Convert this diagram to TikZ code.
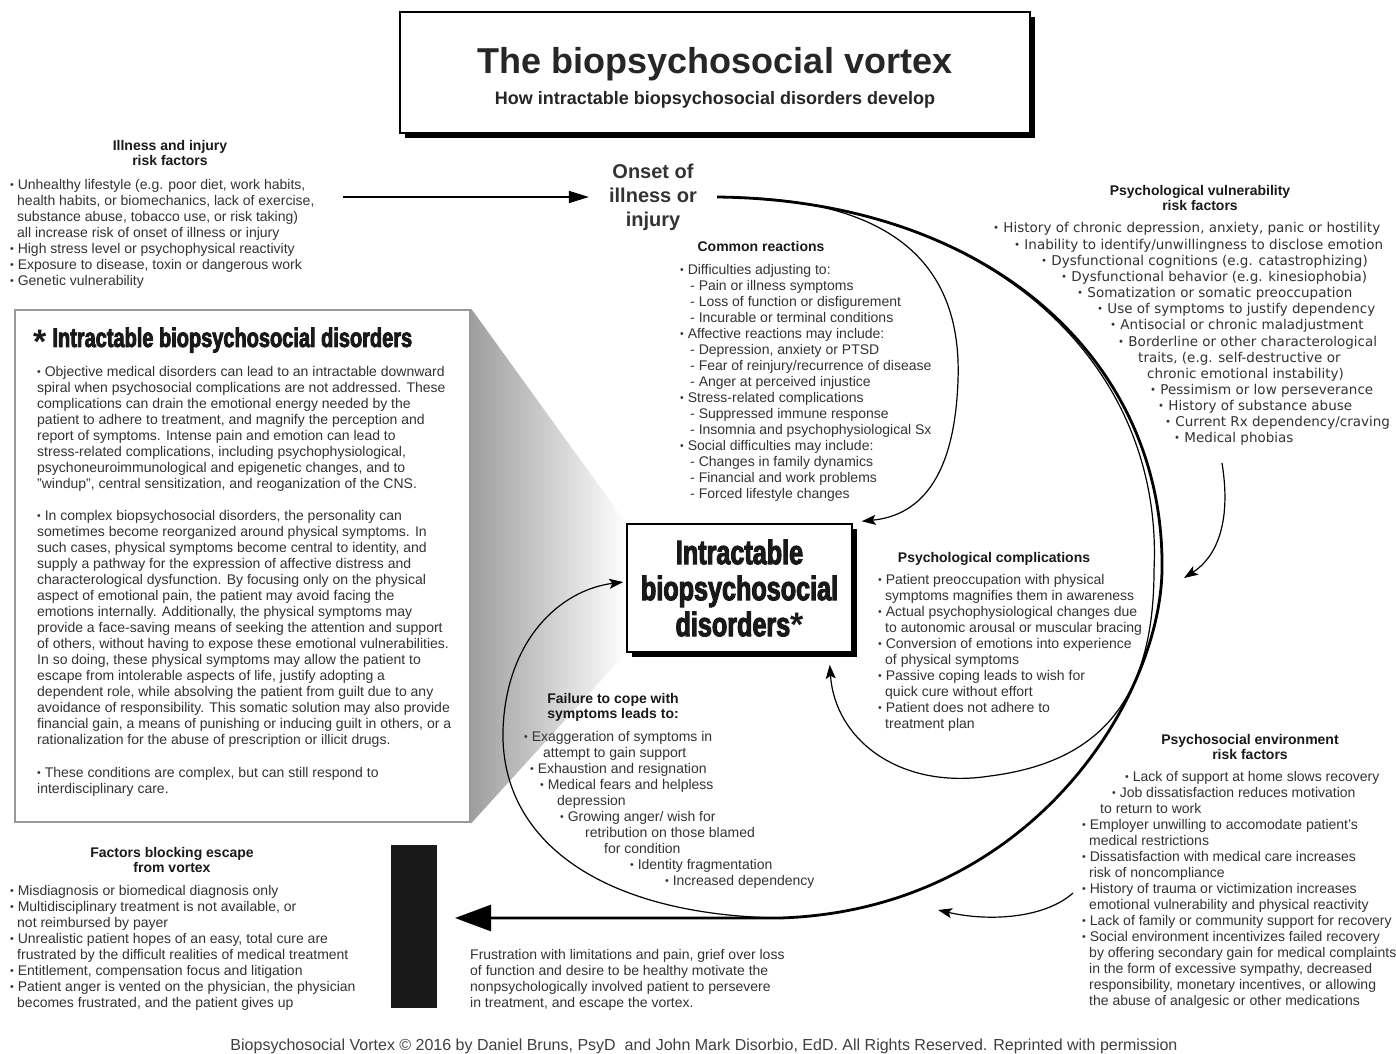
\documentclass[tikz,border=0pt]{standalone}
\usepackage{fontspec}
\setmainfont{Liberation Sans}
\newfontfamily\impactfont[FakeStretch=0.74,FakeBold=3]{Liberation Sans Bold}
\newfontfamily\widefont{DejaVu Sans}
\usepackage{graphicx}
\usetikzlibrary{arrows.meta,shadows,backgrounds}
\newcommand{\bul}{\raisebox{1pt}{\scalebox{0.75}{\textbullet}}\ }

\begin{document}
\begin{tikzpicture}[x=1pt,y=-1pt,
        body/.style={font=\fontsize{14}{16}\selectfont, text=black!80, align=left, inner sep=0pt, anchor=north west},
        head/.style={font=\fontsize{14}{15}\selectfont\bfseries, text=black!90, align=center, inner sep=0pt, anchor=north},
        shadowbox/.style={draw, line width=1.5pt, fill=white, inner sep=0pt, drop shadow={shadow xshift=5pt, shadow yshift=-5pt, opacity=1, fill=black}},
        swirl/.style={line width=1.2pt, -{Stealth[length=14pt,width=10pt,inset=3pt]}}]
        \path[use as bounding box] (0,0) rectangle (1396,1053);

        % title
        \node[shadowbox, minimum width=630pt, minimum height=121pt] (banner) at (715,72.5) {};
        \node[font=\fontsize{36}{40}\selectfont\bfseries, text=black!85] (title) at (715,64) {The biopsychosocial vortex};
        \node[font=\fontsize{18}{20}\selectfont\bfseries, text=black!85] (subtitle) at (715,100) {How intractable biopsychosocial disorders develop};

        % illness and onset
        \node[head] (illhead) at (170,140.5) {Illness and injury\\risk factors};
        \node[body] (illlist) at (10,179.5) {\bul Unhealthy lifestyle (e.g. poor diet, work habits,\\
            \hspace*{7pt}health habits, or biomechanics, lack of exercise,\\
            \hspace*{7pt}substance abuse, tobacco use, or risk taking)\\
            \hspace*{7pt}all increase risk of onset of illness or injury\\
            \bul High stress level or psychophysical reactivity\\
            \bul Exposure to disease, toxin or dangerous work\\
            \bul Genetic vulnerability};
        \node[font=\fontsize{20}{24}\selectfont\bfseries, text=black!80, align=center, inner xsep=20pt, inner ysep=0pt] (onset) at (653,197) {Onset of\\illness or\\injury};
        \coordinate (illend) at (343,197);
        \draw[line width=1.5pt, -{Triangle[length=20pt,width=12pt]}] (illend) -- (onset.west);

        % side box
        \node[draw=black!40, line width=2.5pt, fill=white, minimum width=455pt, minimum height=512pt, inner sep=0pt] (sidebox) at (242.5,566) {};
        \node[anchor=west, inner sep=0pt, text=black!90] (sidehead) at (33,340.7) {{\fontsize{34}{34}\selectfont\bfseries\raisebox{-7pt}{*}}\hspace{6pt}{\impactfont\fontsize{27}{28}\selectfont Intractable biopsychosocial disorders}};
        \node[body] (sidetext) at (37,366.5) {\bul Objective medical disorders can lead to an intractable downward\\
            spiral when psychosocial complications are not addressed. These\\
            complications can drain the emotional energy needed by the\\
            patient to adhere to treatment, and magnify the perception and\\
            report of symptoms. Intense pain and emotion can lead to\\
            stress-related complications, including psychophysiological,\\
            psychoneuroimmunological and epigenetic changes, and to\\
            "windup", central sensitization, and reoganization of the CNS.\\[16pt]
            \bul In complex biopsychosocial disorders, the personality can\\
            sometimes become reorganized around physical symptoms. In\\
            such cases, physical symptoms become central to identity, and\\
            supply a pathway for the expression of affective distress and\\
            characterological dysfunction. By focusing only on the physical\\
            aspect of emotional pain, the patient may avoid facing the\\
            emotions internally. Additionally, the physical symptoms may\\
            provide a face-saving means of seeking the attention and support\\
            of others, without having to expose these emotional vulnerabilities.\\
            In so doing, these physical symptoms may allow the patient to\\
            escape from intolerable aspects of life, justify adopting a\\
            dependent role, while absolving the patient from guilt due to any\\
            avoidance of responsibility. This somatic solution may also provide\\
            financial gain, a means of punishing or inducing guilt in others, or a\\
            rationalization for the abuse of prescription or illicit drugs.\\[17pt]
            \bul These conditions are complex, but can still respond to\\
            interdisciplinary care.};

        % center box
        \node[shadowbox, minimum width=225pt, minimum height=128pt, font=\impactfont\fontsize{34}{36}\selectfont, text=black!90, align=center] (itd) at (739.5,588) {Intractable\\biopsychosocial\\disorders{\normalfont\bfseries\fontsize{34}{34}\selectfont*}};
        \begin{scope}[on background layer]
            \fill[white] (0,0) rectangle (1396,1053);
            \shade[left color=black!38, right color=white] (sidebox.north east) -- (itd.north west) -- (itd.south west) -- (sidebox.south east) -- cycle;
        \end{scope}

        % common reactions
        \node[head] (crhead) at (761,241.5) {Common reactions};
        \node[body] (crlist) at (680,264.5) {\bul Difficulties adjusting to:\\
            \hspace*{10pt}- Pain or illness symptoms\\
            \hspace*{10pt}- Loss of function or disfigurement\\
            \hspace*{10pt}- Incurable or terminal conditions\\
            \bul Affective reactions may include:\\
            \hspace*{10pt}- Depression, anxiety or PTSD\\
            \hspace*{10pt}- Fear of reinjury/recurrence of disease\\
            \hspace*{10pt}- Anger at perceived injustice\\
            \bul Stress-related complications\\
            \hspace*{10pt}- Suppressed immune response\\
            \hspace*{10pt}- Insomnia and psychophysiological Sx\\
            \bul Social difficulties may include:\\
            \hspace*{10pt}- Changes in family dynamics\\
            \hspace*{10pt}- Financial and work problems\\
            \hspace*{10pt}- Forced lifestyle changes};

        % psychological vulnerability
        \node[head] (pvhead) at (1200,185.5) {Psychological vulnerability\\risk factors};
        \node[body, font=\widefont\fontsize{13.5}{16.15}\selectfont] (pvlist) at (993,222.5) {\bul History of chronic depression, anxiety, panic or hostility\\
            \hspace*{21pt}\bul Inability to identify/unwillingness to disclose emotion\\
            \hspace*{48pt}\bul Dysfunctional cognitions (e.g. catastrophizing)\\
            \hspace*{68pt}\bul Dysfunctional behavior (e.g. kinesiophobia)\\
            \hspace*{84pt}\bul Somatization or somatic preoccupation\\
            \hspace*{104pt}\bul Use of symptoms to justify dependency\\
            \hspace*{117pt}\bul Antisocial or chronic maladjustment\\
            \hspace*{125pt}\bul Borderline or other characterological\\
            \hspace*{145pt}traits, (e.g. self-destructive or\\
            \hspace*{154pt}chronic emotional instability)\\
            \hspace*{157pt}\bul Pessimism or low perseverance\\
            \hspace*{165pt}\bul History of substance abuse\\
            \hspace*{172pt}\bul Current Rx dependency/craving\\
            \hspace*{181pt}\bul Medical phobias};

        % psychological complications
        \node[head] (pchead) at (994,552.5) {Psychological complications};
        \node[body] (pclist) at (878,574.5) {\bul Patient preoccupation with physical\\
            \hspace*{7pt}symptoms magnifies them in awareness\\
            \bul Actual psychophysiological changes due\\
            \hspace*{7pt}to autonomic arousal or muscular bracing\\
            \bul Conversion of emotions into experience\\
            \hspace*{7pt}of physical symptoms\\
            \bul Passive coping leads to wish for\\
            \hspace*{7pt}quick cure without effort\\
            \bul Patient does not adhere to\\
            \hspace*{7pt}treatment plan};

        % failure to cope
        \node[head] (fchead) at (613,693.5) {Failure to cope with\\symptoms leads to:};
        \node[body] (fclist) at (524,731.5) {\bul Exaggeration of symptoms in\\
            \hspace*{19pt}attempt to gain support\\
            \hspace*{6pt}\bul Exhaustion and resignation\\
            \hspace*{16pt}\bul Medical fears and helpless\\
            \hspace*{33pt}depression\\
            \hspace*{36pt}\bul Growing anger/ wish for\\
            \hspace*{61pt}retribution on those blamed\\
            \hspace*{80pt}for condition\\
            \hspace*{106pt}\bul Identity fragmentation\\
            \hspace*{141pt}\bul Increased dependency};

        % psychosocial environment
        \node[head] (pehead) at (1250,734.5) {Psychosocial environment\\risk factors};
        \node[body] (pelist) at (1082,771.5) {\hspace*{43pt}\bul Lack of support at home slows recovery\\
            \hspace*{30pt}\bul Job dissatisfaction reduces motivation\\
            \hspace*{18pt}to return to work\\
            \bul Employer unwilling to accomodate patient's\\
            \hspace*{7pt}medical restrictions\\
            \bul Dissatisfaction with medical care increases\\
            \hspace*{7pt}risk of noncompliance\\
            \bul History of trauma or victimization increases\\
            \hspace*{7pt}emotional vulnerability and physical reactivity\\
            \bul Lack of family or community support for recovery\\
            \bul Social environment incentivizes failed recovery\\
            \hspace*{7pt}by offering secondary gain for medical complaints\\
            \hspace*{7pt}in the form of excessive sympathy, decreased\\
            \hspace*{7pt}responsibility, monetary incentives, or allowing\\
            \hspace*{7pt}the abuse of analgesic or other medications};

        % factors blocking escape
        \node[head] (fbhead) at (172,847.5) {Factors blocking escape\\from vortex};
        \node[body] (fblist) at (10,885.5) {\bul Misdiagnosis or biomedical diagnosis only\\
            \bul Multidisciplinary treatment is not available, or\\
            \hspace*{7pt}not reimbursed by payer\\
            \bul Unrealistic patient hopes of an easy, total cure are\\
            \hspace*{7pt}frustrated by the difficult realities of medical treatment\\
            \bul Entitlement, compensation focus and litigation\\
            \bul Patient anger is vented on the physician, the physician\\
            \hspace*{7pt}becomes frustrated, and the patient gives up};
        \node[fill=black!90, minimum width=46pt, minimum height=163pt, inner sep=0pt] (bar) at (414,926.5) {};
        \node[body] (escape) at (470,949.5) {Frustration with limitations and pain, grief over loss\\
            of function and desire to be healthy motivate the\\
            nonpsychologically involved patient to persevere\\
            in treatment, and escape the vortex.};
        \node[font=\fontsize{16}{16}\selectfont, text=black!75, anchor=base, inner sep=0pt] (credit) at (704,1050) {Biopsychosocial Vortex © 2016 by Daniel Bruns, PsyD\ \ and John Mark Disorbio, EdD. All Rights Reserved. Reprinted with permission};

        % vortex curves
        \coordinate (fork) at (780,918);
        \coordinate (esctip) at (455,918);
        \draw[line width=2.8pt, -{Triangle[length=36pt,width=26pt]}] (onset.east) .. controls (990,200) and (1165,360) .. (1162,570) .. controls (1160,700) and (1030,910) .. (fork) -- (esctip);
        \draw[swirl] (onset.east) .. controls (990,200) and (1164,362) .. (1154,570) .. controls (1154,700) and (1100,762) .. (990,776) .. controls (900,790) and (835,740) .. ([xshift=-23pt,yshift=-12pt]itd.south east);
        \draw[swirl] (onset.east) .. controls (900,196) and (962,270) .. (958,380) .. controls (955,470) and (925,515) .. ([xshift=9pt,yshift=2pt]itd.north east);
        \draw[swirl] (fork) .. controls (600,915) and (500,840) .. (503,730) .. controls (506,640) and (560,590) .. ([xshift=-3pt,yshift=6pt]itd.west);
        \coordinate (pvfrom) at (1222,463);
        \coordinate (pvto) at (1184,578);
        \draw[swirl] (pvfrom) .. controls (1232,525) and (1215,558) .. (pvto);
        \coordinate (pefrom) at (1073,893);
        \coordinate (peto) at (938,910);
        \draw[swirl] (pefrom) .. controls (1045,918) and (990,922) .. (peto);
    \end{tikzpicture}
\end{document}
